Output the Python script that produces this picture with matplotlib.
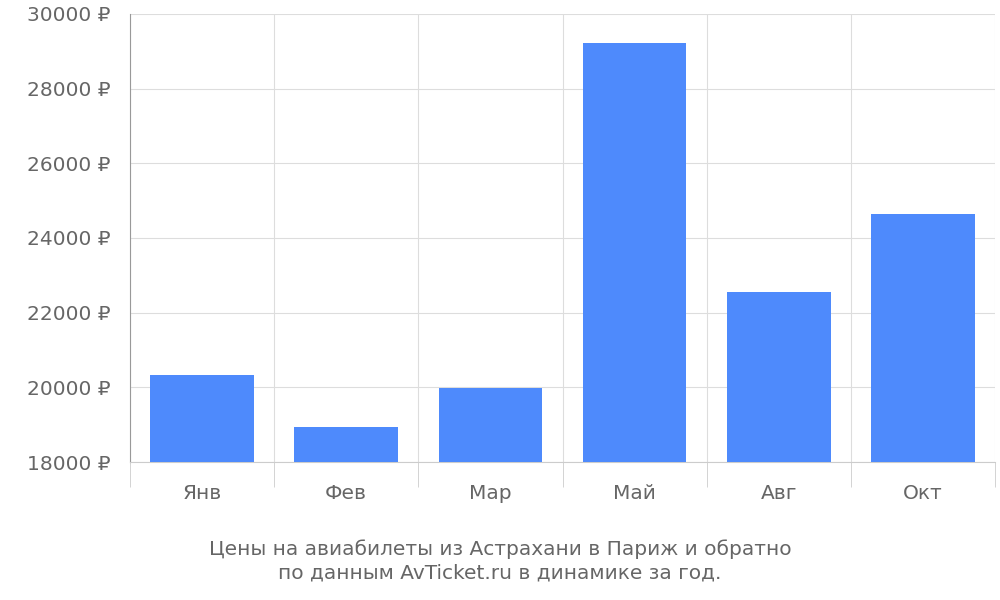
import matplotlib
matplotlib.use("Agg")
import matplotlib.pyplot as plt
import numpy as np

plt.rcParams['font.family'] = ['DejaVu Sans']

months = ["Янв", "Фев", "Мар", "Май", "Авг", "Окт"]
prices = [20330, 18940, 19980, 29230, 22560, 24650]
yticks = [18000, 20000, 22000, 24000, 26000, 28000, 30000]

grey = "#666666"
fig = plt.figure(figsize=(10, 6), dpi=100)
ax = fig.add_axes([0.13, 0.23, 0.865, 0.747])

x = np.arange(len(months))
ax.bar(x, prices, width=0.72, color="#4e8afc", zorder=3)

ax.set_xlim(-0.5, len(months) - 0.5)
ax.set_ylim(18000, 30000)
ax.set_yticks(yticks)
ax.set_yticklabels([f"{v} ₽" for v in yticks], fontsize=14.5, color=grey)
ax.set_xticks(x)
ax.set_xticklabels(months, fontsize=14.5, color=grey)
ax.tick_params(axis="x", length=0, pad=16)
ax.tick_params(axis="y", length=0, pad=14)

# category boundaries: grid lines + ticks below the axis
ax.set_xticks(np.arange(-0.5, len(months)), minor=True)
ax.tick_params(axis="x", which="minor", length=18, color="#cccccc")
ax.grid(True, which="minor", axis="x", color="#dddddd", zorder=0)
ax.grid(True, which="major", axis="y", color="#dddddd", zorder=0)

for s in ["top", "right"]:
    ax.spines[s].set_visible(False)
ax.spines["left"].set_color("#999999")
ax.spines["bottom"].set_color("#cccccc")

fig.text(0.5, 0.065, "Цены на авиабилеты из Астрахани в Париж и обратно\nпо данным AvTicket.ru в динамике за год.",
         ha="center", va="center", fontsize=14.5, color=grey, linespacing=1.25)

fig.savefig("out.png", dpi=100)
